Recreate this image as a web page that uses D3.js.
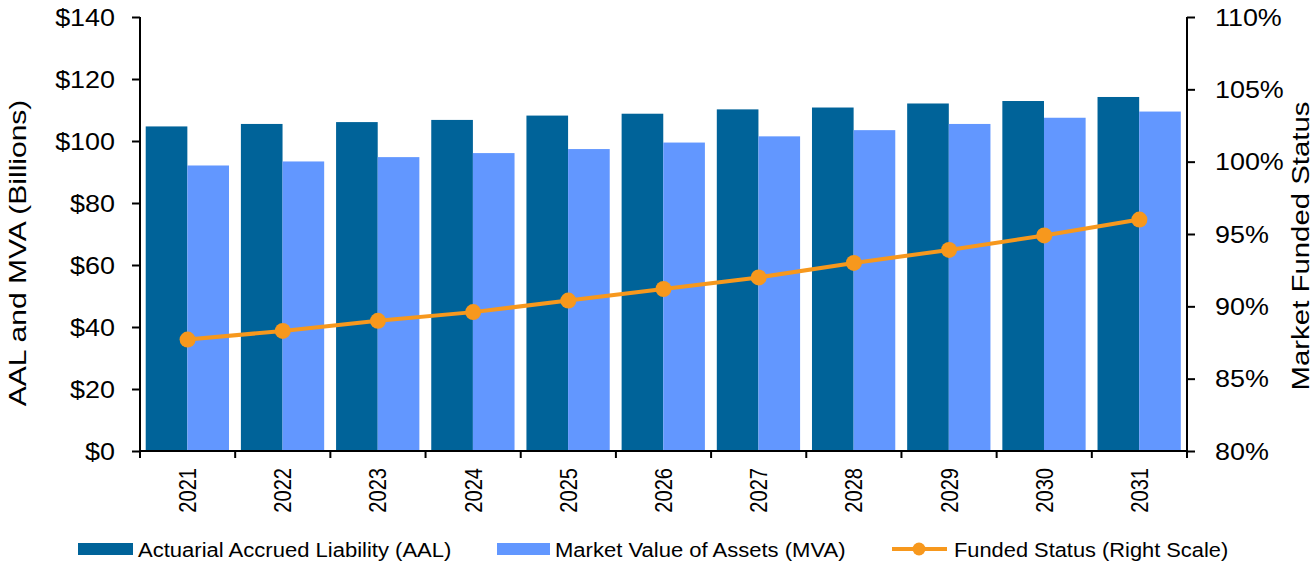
<!DOCTYPE html>
<html>
<head>
<meta charset="utf-8">
<script src="https://cdn.jsdelivr.net/npm/d3@7"></script>
<style>
  body { margin: 0; background: #fff; }
  text { font-family: "Liberation Sans", Arial, sans-serif; fill: #000; }
</style>
</head>
<body>
<script>
(function(d3) {
    'use strict';

    var years = ['2021', '2022', '2023', '2024', '2025', '2026', '2027', '2028', '2029', '2030', '2031'];
    var aal = [104.7, 105.5, 106.1, 106.8, 108.2, 108.8, 110.2, 110.8, 112.1, 112.9, 114.2];
    var mva = [92.1, 93.4, 94.8, 96.1, 97.4, 99.5, 101.5, 103.5, 105.5, 107.5, 109.5];
    var funded = [87.7, 88.3, 89.0, 89.6, 90.4, 91.2, 92.0, 93.0, 93.9, 94.9, 96.0];
    var leftTicks = [0, 20, 40, 60, 80, 100, 120, 140];
    var rightTicks = [80, 85, 90, 95, 100, 105, 110];

    var settings = {
        width: 1316,
        height: 564,
        left: 140,
        right: 1187,
        top: 17,
        bottom: 451,
        aalColor: '#006399',
        mvaColor: '#6297FF',
        lineColor: '#F7981D',
        // the original text is drawn a bit wider than plain Arial
        stretch: 1.17
    };

    var svg = d3.select('body')
        .append('svg')
        .attr('width', settings.width)
        .attr('height', settings.height);

    var x = d3.scaleBand()
        .domain(years)
        .range([settings.left, settings.right])
        .padding(0);

    var xInner = d3.scaleBand()
        .domain(['aal', 'mva'])
        .range([x.bandwidth() * 0.06, x.bandwidth() * 0.935])
        .padding(0);

    var y = d3.scaleLinear()
        .domain([0, 140])
        .range([settings.bottom, settings.top]);

    var y2 = d3.scaleLinear()
        .domain([80, 110])
        .range([settings.bottom, settings.top]);

    // bars
    var group = svg.selectAll('g.year')
        .data(years)
        .enter()
        .append('g')
        .attr('class', 'year')
        .attr('transform', function(d) { return 'translate(' + x(d) + ',0)'; });

    group.append('rect')
        .attr('x', xInner('aal'))
        .attr('width', xInner.bandwidth())
        .attr('y', function(d, i) { return y(aal[i]); })
        .attr('height', function(d, i) { return y(0) - y(aal[i]); })
        .attr('fill', settings.aalColor);

    group.append('rect')
        .attr('x', xInner('mva'))
        .attr('width', xInner.bandwidth())
        .attr('y', function(d, i) { return y(mva[i]); })
        .attr('height', function(d, i) { return y(0) - y(mva[i]); })
        .attr('fill', settings.mvaColor);

    // left axis
    var leftAxis = d3.axisLeft(y)
        .tickValues(leftTicks)
        .tickSize(8)
        .tickFormat(function(d) { return '$' + d; });

    var gl = svg.append('g')
        .attr('transform', 'translate(' + settings.left + ',0)')
        .call(leftAxis);
    gl.select('.domain').attr('stroke', '#000').attr('stroke-width', 2).attr('d', 'M0,' + settings.top + 'V' + settings.bottom);
    gl.selectAll('.tick line').attr('stroke', '#000').attr('stroke-width', 2);
    gl.selectAll('.tick text')
        .attr('x', null)
        .attr('dy', '0.36em')
        .attr('font-size', 23)
        .attr('fill', '#000')
        .attr('transform', 'translate(-25,0) scale(' + settings.stretch + ',1)');

    // right axis
    var rightAxis = d3.axisRight(y2)
        .tickValues(rightTicks)
        .tickSize(8)
        .tickFormat(function(d) { return d + '%'; });

    var gr = svg.append('g')
        .attr('transform', 'translate(' + settings.right + ',0)')
        .call(rightAxis);
    gr.select('.domain').attr('stroke', '#000').attr('stroke-width', 2).attr('d', 'M0,' + settings.top + 'V' + settings.bottom);
    gr.selectAll('.tick line').attr('stroke', '#000').attr('stroke-width', 2);
    gr.selectAll('.tick text')
        .attr('x', null)
        .attr('dy', '0.36em')
        .attr('font-size', 23)
        .attr('fill', '#000')
        .attr('transform', 'translate(28,0) scale(' + settings.stretch + ',1)');

    // bottom axis: ticks at category boundaries
    var gb = svg.append('g');
    gb.append('line')
        .attr('x1', settings.left).attr('x2', settings.right)
        .attr('y1', settings.bottom).attr('y2', settings.bottom)
        .attr('stroke', '#000').attr('stroke-width', 2);

    gb.selectAll('line.tick')
        .data(years.concat(['end']))
        .enter()
        .append('line')
        .attr('class', 'tick')
        .attr('x1', function(d) { return d === 'end' ? settings.right : x(d); })
        .attr('x2', function(d) { return d === 'end' ? settings.right : x(d); })
        .attr('y1', settings.bottom)
        .attr('y2', settings.bottom + 7)
        .attr('stroke', '#000').attr('stroke-width', 2);

    gb.selectAll('text')
        .data(years)
        .enter()
        .append('text')
        .attr('transform', function(d) {
            return 'translate(' + (x(d) + x.bandwidth() / 2 + 8.5) + ',' + (settings.bottom + 17) + ') rotate(-90) scale(' + (1 / settings.stretch) + ',1)';
        })
        .attr('text-anchor', 'end')
        .attr('font-size', 23.5)
        .text(function(d) { return d; });

    // funded status line
    var line = d3.line()
        .x(function(d, i) { return x(years[i]) + x.bandwidth() / 2; })
        .y(function(d) { return y2(d); });

    svg.append('path')
        .datum(funded)
        .attr('d', line)
        .attr('fill', 'none')
        .attr('stroke', settings.lineColor)
        .attr('stroke-width', 4);

    svg.selectAll('circle.pt')
        .data(funded)
        .enter()
        .append('circle')
        .attr('class', 'pt')
        .attr('cx', function(d, i) { return x(years[i]) + x.bandwidth() / 2; })
        .attr('cy', function(d) { return y2(d); })
        .attr('r', 8)
        .attr('fill', settings.lineColor);

    // axis titles
    svg.append('text')
        .attr('transform', 'translate(26,253) rotate(-90) scale(1.25,1)')
        .attr('text-anchor', 'middle')
        .attr('font-size', 24)
        .text('AAL and MVA (Billions)');

    svg.append('text')
        .attr('transform', 'translate(1309,246) rotate(-90) scale(1.25,1)')
        .attr('text-anchor', 'middle')
        .attr('font-size', 23.5)
        .text('Market Funded Status');

    // legend
    var legendY = 549;
    var lg = svg.append('g');

    lg.append('rect').attr('x', 78).attr('y', legendY - 6).attr('width', 55).attr('height', 12).attr('fill', settings.aalColor);
    lg.append('text').attr('transform', 'translate(138,' + (legendY + 8) + ') scale(1.13,1)')
        .attr('font-size', 19.5).text('Actuarial Accrued Liability (AAL)');

    lg.append('rect').attr('x', 497).attr('y', legendY - 6).attr('width', 53).attr('height', 12).attr('fill', settings.mvaColor);
    lg.append('text').attr('transform', 'translate(555,' + (legendY + 8) + ') scale(1.13,1)')
        .attr('font-size', 19.5).text('Market Value of Assets (MVA)');

    lg.append('line').attr('x1', 892).attr('x2', 947).attr('y1', legendY).attr('y2', legendY)
        .attr('stroke', settings.lineColor).attr('stroke-width', 4);
    lg.append('circle').attr('cx', 919).attr('cy', legendY).attr('r', 6.5).attr('fill', settings.lineColor);
    lg.append('text').attr('transform', 'translate(954,' + (legendY + 8) + ') scale(1.12,1)')
        .attr('font-size', 19.5).text('Funded Status (Right Scale)');

})(window.d3);
</script>
</body>
</html>
